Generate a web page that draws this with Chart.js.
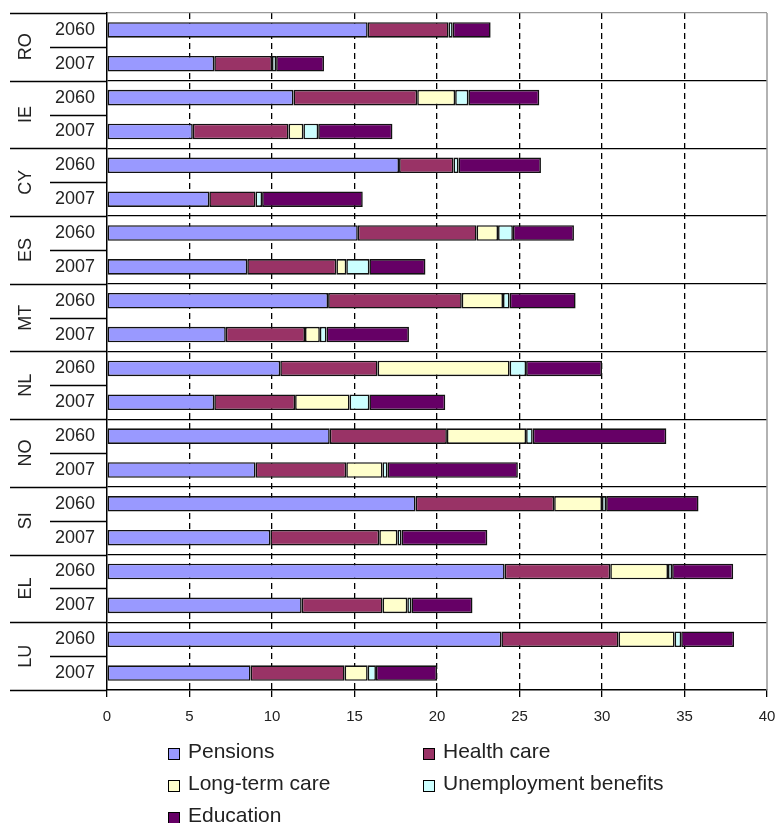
<!DOCTYPE html>
<html>
<head>
<meta charset="utf-8">
<script src="https://cdn.jsdelivr.net/npm/chart.js@4.4.1/dist/chart.umd.min.js"></script>
<style>
  body { margin: 0; background: #fff; font-family: "Liberation Sans", Arial, sans-serif; }
  #wrap { position: relative; width: 779px; height: 823px; }
  #legend { position: absolute; left: 168px; top: 735px; display: grid; grid-template-columns: 255px 255px; grid-auto-rows: 32px; font-size: 21px; color: #222; }
  #legend div { display: flex; align-items: center; }
  #legend span.box { width: 10px; height: 10px; border: 1.5px solid #000; margin-right: 8px; margin-top: 5px; }
</style>
</head>
<body>
<div id="wrap">
  <canvas id="chart" width="779" height="823"></canvas>
  <div id="legend"></div>
</div>
<script>
// DATOS
const countries = ['RO', 'IE', 'CY', 'ES', 'MT', 'NL', 'NO', 'SI', 'EL', 'LU'];
const years = ['2060', '2007'];
const seriesNames = ['Pensions', 'Health care', 'Long-term care', 'Unemployment benefits', 'Education'];
const seriesColors = ['#9999FF', '#993366', '#FFFFCC', '#CCFFFF', '#660066'];

const pensions2060 = [15.8, 11.3, 17.7, 15.2, 13.4, 10.5, 13.5, 18.7, 24.1, 23.9];
const health2060 = [4.9, 7.5, 3.3, 7.2, 8.1, 5.9, 7.1, 8.4, 6.4, 7.1];
const ltc2060 = [0, 2.3, 0, 1.3, 2.5, 8.0, 4.8, 2.9, 3.5, 3.4];
const unemp2060 = [0.25, 0.8, 0.3, 0.9, 0.4, 1.0, 0.4, 0.25, 0.25, 0.4];
const edu2060 = [2.3, 4.3, 5.0, 3.7, 4.0, 4.6, 8.1, 5.6, 3.7, 3.2];

const pensions2007 = [6.5, 5.2, 6.2, 8.5, 7.2, 6.5, 9.0, 9.9, 11.8, 8.7];
const health2007 = [3.5, 5.8, 2.8, 5.4, 4.8, 4.9, 5.5, 6.6, 4.9, 5.7];
const ltc2007 = [0, 0.9, 0, 0.6, 0.9, 3.3, 2.2, 1.1, 1.5, 1.4];
const unemp2007 = [0.25, 0.9, 0.4, 1.4, 0.4, 1.2, 0.3, 0.25, 0.25, 0.5];
const edu2007 = [2.9, 4.5, 6.1, 3.4, 5.0, 4.6, 7.9, 5.2, 3.7, 3.7];

const xTicks = [0, 5, 10, 15, 20, 25, 30, 35, 40];

// filas: cada pais tiene 2060 y luego 2007
const rowLabels = [];
countries.forEach(() => years.forEach(y => rowLabels.push(y)));

const pairs = [
  [pensions2060, pensions2007],
  [health2060, health2007],
  [ltc2060, ltc2007],
  [unemp2060, unemp2007],
  [edu2060, edu2007]
];

const datasets = seriesNames.map((name, s) => {
  const data = [];
  countries.forEach((c, i) => {
    data.push(pairs[s][0][i] || null);
    data.push(pairs[s][1][i] || null);
  });
  return {
    label: name,
    data: data,
    backgroundColor: seriesColors[s],
    borderColor: '#111',
    borderWidth: 1.6,
    borderSkipped: false,
    barPercentage: 0.46,
    categoryPercentage: 1
  };
});

// lineas y etiquetas de pais a la izquierda
const groupPlugin = {
  id: 'groupPlugin',
  afterDraw(chart) {
    const ctx = chart.ctx;
    const area = chart.chartArea;
    const yScale = chart.scales.y;
    const step = yScale.getPixelForValue(1) - yScale.getPixelForValue(0);
    const bound = i => yScale.getPixelForValue(0) - step / 2 + i * step;

    ctx.save();
    ctx.strokeStyle = '#000';
    ctx.lineWidth = 1.3;
    for (let i = 0; i <= rowLabels.length; i++) {
      const y = Math.round(bound(i)) + 0.5;
      ctx.beginPath();
      ctx.moveTo(i % 2 === 0 ? 10 : 50, y);
      ctx.lineTo(area.left, y);
      ctx.stroke();
    }
    // borde derecho gris
    ctx.strokeStyle = '#999';
    ctx.lineWidth = 1.5;
    ctx.beginPath();
    ctx.moveTo(area.right, area.top);
    ctx.lineTo(area.right, area.bottom);
    ctx.stroke();

    ctx.fillStyle = '#222';
    ctx.font = '18px "Liberation Sans", Arial, sans-serif';
    ctx.textAlign = 'center';
    ctx.textBaseline = 'middle';
    countries.forEach((c, k) => {
      const yc = (bound(2 * k) + bound(2 * k + 2)) / 2;
      ctx.save();
      ctx.translate(26, yc);
      ctx.rotate(-Math.PI / 2);
      ctx.fillText(c, 0, 0);
      ctx.restore();
    });
    ctx.restore();
  }
};

const ctx = document.getElementById('chart').getContext('2d');
const myChart = new Chart(ctx, {
  type: 'bar',
  data: { labels: rowLabels, datasets: datasets },
  options: {
    indexAxis: 'y',
    responsive: false,
    animation: false,
    devicePixelRatio: 1,
    layout: { padding: { top: 13, right: 12, left: 10, bottom: 0 } },
    plugins: { legend: { display: false }, tooltip: { enabled: false } },
    scales: {
      x: {
        stacked: true,
        min: 0,
        max: 40,
        afterBuildTicks: s => { s.ticks = xTicks.map(v => ({ value: v })); },
        afterFit: s => {
          s.height = 133;
          s.paddingLeft = 0; s.paddingRight = 0;
        },
        ticks: {
          color: '#222',
          padding: 11,
          font: { size: 15, family: '"Liberation Sans", Arial, sans-serif' }
        },
        grid: {
          color: c => (c.tick && (c.tick.value === 0 || c.tick.value === 40)) ? 'rgba(0,0,0,0)' : '#000',
          lineWidth: 1.3,
          drawTicks: true,
          tickLength: 7,
          tickColor: '#000',
          tickWidth: 1.3,
          tickBorderDash: []
        },
        border: { display: true, color: '#000', width: 1.5, dash: [6, 4] }
      },
      y: {
        stacked: true,
        afterFit: s => {
          s.width = 97;
          s.paddingTop = 0; s.paddingBottom = 0;
        },
        ticks: {
          color: '#222',
          padding: 12,
          font: { size: 18, family: '"Liberation Sans", Arial, sans-serif' }
        },
        grid: {
          drawTicks: false,
          color: c => c.index === 0 ? '#999' : (c.index % 2 === 0 ? '#000' : 'rgba(0,0,0,0)'),
          lineWidth: 1.3
        },
        border: { display: true, color: '#000', width: 1.5 }
      }
    }
  },
  plugins: [groupPlugin]
});

// LEYENDA
const legendDiv = document.getElementById('legend');
seriesNames.forEach((name, s) => {
  const item = document.createElement('div');
  item.innerHTML = `<span class="box" style="background:${seriesColors[s]}"></span>${name}`;
  legendDiv.appendChild(item);
});
</script>
</body>
</html>
